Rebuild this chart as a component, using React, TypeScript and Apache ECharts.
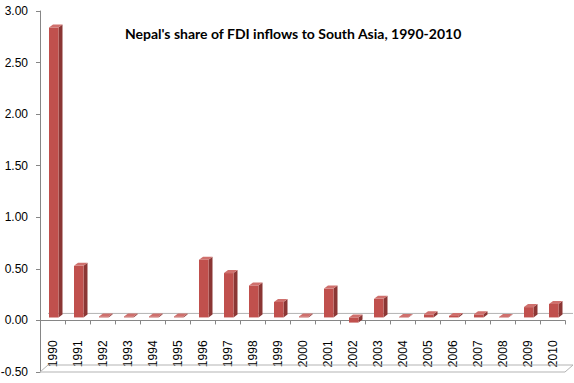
import React, { useEffect, useRef } from "react";
import * as echarts from "echarts";

const years = ["1990","1991","1992","1993","1994","1995","1996","1997","1998","1999","2000","2001","2002","2003","2004","2005","2006","2007","2008","2009","2010"];
const shares = [2.81, 0.5, 0.01, 0.01, 0.01, 0.01, 0.56, 0.43, 0.31, 0.15, 0.01, 0.28, -0.05, 0.18, 0.005, 0.03, 0.015, 0.03, 0.005, 0.1, 0.13];
const yTicks = { min: -0.5, max: 3, interval: 0.5 };
const titleText = "Nepal's share of FDI inflows to South Asia, 1990-2010";

const W = 574, H = 383;
const GRID = { left: 40, right: 9, top: 11, bottom: 11 };

export default function App() {
  const ref = useRef<HTMLDivElement>(null);
  useEffect(() => {
    if (!ref.current) return;
    const chart = echarts.init(ref.current, null, { renderer: "svg" });
    const axisGray = "#868686";
    const DX = 8, DY = 7;
    const plotH = H - GRID.top - GRID.bottom;
    const zeroOffset = -plotH * (0 - yTicks.min) / (yTicks.max - yTicks.min);
    const option: any = {
      animation: false,
      title: {
        text: titleText,
        left: 120,
        top: 21,
        textStyle: { fontFamily: "Lato", fontWeight: "bold", fontSize: 14, color: "#000" },
      },
      grid: { ...GRID, containLabel: false, outerBoundsMode: "none" },
      xAxis: {
        type: "category",
        data: years,
        boundaryGap: true,
        offset: zeroOffset,
        axisLine: { onZero: false, lineStyle: { color: axisGray, width: 1 } },
        axisTick: { show: true, length: 4, lineStyle: { color: axisGray } },
        axisLabel: { rotate: 90, margin: 12, fontFamily: "Liberation Sans", fontSize: 12, color: "#000", interval: 0 },
        splitLine: { show: false },
      },
      yAxis: {
        type: "value",
        min: yTicks.min,
        max: yTicks.max,
        interval: yTicks.interval,
        axisLine: { show: true, lineStyle: { color: axisGray } },
        axisTick: { show: true, length: 4, lineStyle: { color: axisGray } },
        axisLabel: { margin: 12, fontFamily: "Liberation Sans", fontSize: 12, color: "#000", formatter: (v: number) => v.toFixed(2) },
        splitLine: { show: false },
      },
      series: [
        {
          type: "custom",
          silent: true,
          data: [[0, yTicks.min]],
          renderItem: (params: any, api: any) => {
            const cs = params.coordSys;
            const zeroY = api.coord([0, 0])[1];
            const botY = cs.y + cs.height;
            const x0 = cs.x, x1 = cs.x + cs.width;
            const ls = { stroke: "#b3b3b3", lineWidth: 1 };
            return {
              type: "group",
              children: [
                { type: "line", shape: { x1: x0 + DX, y1: zeroY - DY, x2: x1 + DX, y2: zeroY - DY }, style: ls },
                { type: "line", shape: { x1: x0 + DX, y1: botY - DY, x2: x1 + DX, y2: botY - DY }, style: ls },
                { type: "line", shape: { x1: x0, y1: botY, x2: x1, y2: botY }, style: ls },
                { type: "line", shape: { x1: x0, y1: botY, x2: x0 + DX, y2: botY - DY }, style: ls },
                { type: "line", shape: { x1: x1, y1: botY, x2: x1 + DX, y2: botY - DY }, style: ls },
              ],
            };
          },
          z: 1,
        },
        {
          type: "custom",
          silent: true,
          data: shares.map((v, i) => [i, v]),
          renderItem: (params: any, api: any) => {
            const i = api.value(0);
            const v = api.value(1);
            const top = api.coord([i, v]);
            const base = api.coord([i, 0]);
            const c = top[0];
            const sx0 = c - 3.5, sx1 = c + 6;
            const dx = 4, dy = 3;
            const yA = Math.min(top[1], base[1]) - 3;
            const yB = Math.max(top[1], base[1]) - 3;
            return {
              type: "group",
              children: [
                { type: "polygon", shape: { points: [[sx1, yA], [sx1 + dx, yA - dy], [sx1 + dx, yB - dy], [sx1, yB]] }, style: { fill: "#8b3634" } },
                { type: "rect", shape: { x: sx0, y: yA, width: sx1 - sx0, height: Math.max(yB - yA, 0.5) }, style: { fill: "#c0504d" } },
                { type: "polygon", shape: { points: [[sx0, yA], [sx1, yA], [sx1 + dx, yA - dy], [sx0 + dx, yA - dy]] }, style: { fill: "#cf706d" } },
              ],
            };
          },
          z: 3,
        },
      ],
    };
    option.xAxis.axisLabel.margin = 20;
    chart.setOption(option);
    return () => chart.dispose();
  }, []);
  return <div ref={ref} style={{ position: "absolute", left: 0, top: 0, width: W, height: H }} />;
}
